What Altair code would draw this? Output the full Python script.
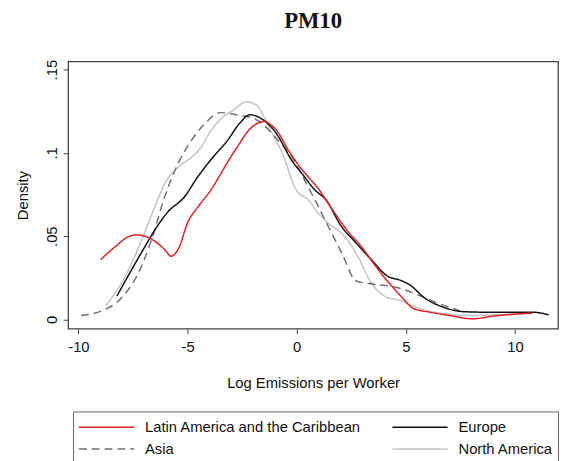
import altair as alt
import pandas as pd

series_order = ["Latin America and the Caribbean", "Asia", "Europe", "North America"]
series_colors = ["#dd2222", "#707070", "#111111", "#c4c4c4"]
series_dash = [[1, 0], [8, 5], [1, 0], [1, 0]]

lac_x = [-8.98, -8.3, -7.7, -7.33, -6.5, -6.05, -5.75, -5.4, -5.0, -4.5, -3.95, -3.5, -3.05,
         -2.6, -2.3, -1.9, -1.47, -1.2, -0.95, -0.35, 0.18, 0.55, 1.0, 1.6, 2.36, 2.96, 3.56,
         4.16, 4.76, 5.36, 6.1, 7.0, 8.06, 8.96, 9.8, 10.77]
lac_y = [0.036, 0.0438, 0.0498, 0.0508, 0.047, 0.042, 0.038, 0.043, 0.058, 0.068, 0.0774, 0.087,
         0.097, 0.106, 0.112, 0.117, 0.1189, 0.117, 0.114, 0.101, 0.091, 0.0853, 0.0784, 0.0666,
         0.0527, 0.0438, 0.033, 0.023, 0.0142, 0.0065, 0.0044, 0.0024, 0.0004, 0.002, 0.003, 0.0038]

eur_x = [-8.23, -7.6, -6.95, -6.5, -5.9, -5.15, -4.55, -3.8, -3.2, -2.6, -2.15, -1.55, -0.95,
         -0.2, 0.26, 0.86, 1.3, 2.06, 2.66, 3.41, 4.16, 4.76, 5.21, 5.82, 6.73, 7.63, 8.5, 9.58,
         10.79, 11.54]
eur_y = [0.0142, 0.029, 0.0438, 0.0537, 0.0646, 0.0735, 0.0853, 0.098, 0.107, 0.118, 0.1229,
         0.12, 0.112, 0.095, 0.0873, 0.0774, 0.0725, 0.0557, 0.0468, 0.036, 0.026, 0.0235, 0.0205,
         0.0133, 0.0073, 0.0047, 0.0044, 0.0044, 0.0044, 0.0028]

asia_x = [-9.88, -8.9, -8.0, -7.25, -6.65, -6.05, -5.45, -4.85, -4.25, -3.5, -2.75, -1.85, -0.95,
          -0.2, 0.55, 1.3, 2.06, 2.73, 3.56, 4.6, 5.66, 6.56, 7.46]
asia_y = [0.0024, 0.0053, 0.0133, 0.028, 0.0478, 0.0735, 0.0932, 0.107, 0.117, 0.1242, 0.1229,
          0.12, 0.109, 0.097, 0.079, 0.0597, 0.04, 0.0231, 0.0212, 0.0192, 0.0142, 0.0093, 0.0053]

na_x = [-8.75, -7.85, -7.1, -6.5, -6.05, -5.45, -4.85, -4.4, -3.95, -3.35, -2.9, -2.3, -1.85,
        -1.25, -0.64, -0.05, 0.55, 1.0, 1.46, 2.2, 2.8, 3.41, 4.0, 4.76, 5.66, 6.86, 8.06, 9.3, 10.5]
na_y = [0.0083, 0.026, 0.0478, 0.0675, 0.0814, 0.0912, 0.097, 0.103, 0.113, 0.1219, 0.1258,
        0.1307, 0.1288, 0.115, 0.0992, 0.0784, 0.0715, 0.0636, 0.0577, 0.0498, 0.0379, 0.0222,
        0.0142, 0.0113, 0.0063, 0.0034, 0.0024, 0.003, 0.0035]

x_ticks = [-10, -5, 0, 5, 10]
y_ticks = [0, 0.05, 0.1, 0.15]

rows = []
for name, xs, ys in [
    ("North America", na_x, na_y),
    ("Asia", asia_x, asia_y),
    ("Europe", eur_x, eur_y),
    ("Latin America and the Caribbean", lac_x, lac_y),
]:
    for i, (xv, yv) in enumerate(zip(xs, ys)):
        rows.append({"series": name, "x": xv, "y": yv, "i": i})
df = pd.DataFrame(rows)

FONT = "Liberation Sans"

chart = alt.Chart(df).mark_line(strokeWidth=1.5, interpolate="monotone").encode(
    x=alt.X("x:Q", scale=alt.Scale(domain=[-10.47, 11.97], nice=False, zero=False),
            axis=alt.Axis(values=x_ticks, title="Log Emissions per Worker",
                          labelExpr="'' + datum.value",
                          titlePadding=22, labelPadding=6)),
    y=alt.Y("y:Q", scale=alt.Scale(domain=[-0.0055, 0.1549], nice=False, zero=False),
            axis=alt.Axis(values=y_ticks, title="Density", labelAngle=270, labelAlign="center",
                          labelBaseline="bottom", labelPadding=4, titlePadding=14,
                          labelExpr="datum.value == 0 ? '0' : replace(format(datum.value, '.2~f'), '0.', '.')")),
    color=alt.Color("series:N", scale=alt.Scale(domain=series_order, range=series_colors),
                    legend=alt.Legend(title=None)),
    strokeDash=alt.StrokeDash("series:N", scale=alt.Scale(domain=series_order, range=series_dash),
                              legend=alt.Legend(title=None)),
    order="i:Q",
    detail="series:N",
).properties(
    width=497, height=271,
    autosize=alt.AutoSizeParams(type="none"),
    padding={"left": 61, "top": 51, "right": 2, "bottom": 131},
    title=alt.Title("PM10", font="Liberation Serif", fontSize=23, fontWeight="bold",
                    anchor="middle", offset=27, color="#111"),
).configure_view(
    stroke="#444", strokeWidth=1.3
).configure_axis(
    grid=False, domain=False, tickColor="#444", tickSize=5,
    labelFont=FONT, titleFont=FONT, labelFontSize=15, titleFontSize=15,
    labelColor="#111", titleColor="#111", titleFontWeight="normal",
).configure_legend(
    orient="none", legendX=5, legendY=355, columns=2, symbolType="stroke",
    symbolSize=3136, symbolStrokeWidth=1.5, labelFont=FONT, labelFontSize=15,
    labelColor="#111", padding=5, strokeColor="#666", columnPadding=30, rowPadding=0,
    labelOffset=10, labelLimit=400, fillColor="white", clipHeight=22,
)

chart.save("out.html", embed_options={"renderer": "svg", "actions": False})
